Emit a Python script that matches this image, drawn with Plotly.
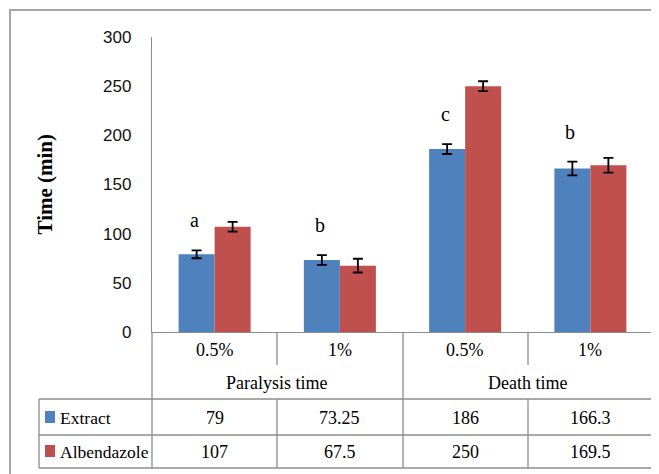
import plotly.graph_objects as go

# ---- data ----
groups = ["Paralysis time", "Death time"]
concentrations = ["0.5%", "1%", "0.5%", "1%"]
series_names = ["Extract", "Albendazole"]
extract = [79, 73.25, 186, 166.3]
albendazole = [107, 67.5, 250, 169.5]
extract_err = [4, 5, 5, 7]
albendazole_err = [5, 7, 5, 7.5]
extract_labels = ["79", "73.25", "186", "166.3"]
albendazole_labels = ["107", "67.5", "250", "169.5"]
letters = ["a", "b", "c", "b"]
y_ticks = [0, 50, 100, 150, 200, 250, 300]

# ---- layout geometry (reference pixels; page body has an 8px margin) ----
OFF = 8
W, H = 659 - OFF, 474 - OFF
L, R, T, B = 152, 653, 37, 332

def px_x(p):
    return (p - L) / (R - L)

def px_y(p):
    return (B - p) / (B - T)

BLUE = "#4F81BD"
RED = "#C0504D"
GRID = "#8C8C8C"
SERIF = "Liberation Serif, Times New Roman, serif"
SANS = "Liberation Sans, Arial, sans-serif"

xs = list(range(len(concentrations)))

fig = go.Figure()
fig.add_trace(go.Bar(
    x=xs, y=extract, name=series_names[0], marker=dict(color=BLUE, line=dict(width=0)),
    error_y=dict(type="data", array=extract_err, color="black", thickness=1.8, width=5),
))
fig.add_trace(go.Bar(
    x=xs, y=albendazole, name=series_names[1], marker=dict(color=RED, line=dict(width=0)),
    error_y=dict(type="data", array=albendazole_err, color="black", thickness=1.8, width=5),
))

shapes = []
def line(x0, y0, x1, y1, color=GRID, width=1.3):
    shapes.append(dict(type="line", xref="paper", yref="paper",
                       x0=px_x(x0), y0=px_y(y0), x1=px_x(x1), y1=px_y(y1),
                       line=dict(color=color, width=width)))

# outer chart border
shapes.append(dict(type="rect", xref="paper", yref="paper",
                   x0=px_x(10), y0=px_y(10), x1=px_x(668), y1=px_y(484),
                   line=dict(color="#A6A6A6", width=2)))

# table lines
line(L, B, L, 468)
line(R, B, R, 468)
line(403, B, 403, 468)
for xp in (277, 528):
    line(xp, B, xp, 365)
    line(xp, 399, xp, 468)
line(39, 399, 39, 468)
for yp in (399, 435, 468):
    line(39, yp, R, yp)

# legend keys
shapes.append(dict(type="rect", xref="paper", yref="paper", x0=px_x(45), x1=px_x(55),
                   y0=px_y(411), y1=px_y(423), fillcolor=BLUE, line=dict(width=0)))
shapes.append(dict(type="rect", xref="paper", yref="paper", x0=px_x(45), x1=px_x(55),
                   y0=px_y(445), y1=px_y(457), fillcolor=RED, line=dict(width=0)))

ann = []
tfont = dict(family=SERIF, size=18, color="#000")
lfont = dict(family=SERIF, size=17.5, color="#000")
for i, c in enumerate(concentrations):
    ann.append(dict(x=i, y=px_y(350), xref="x", yref="paper", text=c, showarrow=False,
                    font=tfont, xanchor="center", yanchor="middle"))
    ann.append(dict(x=i, y=px_y(418), xref="x", yref="paper", text=extract_labels[i],
                    showarrow=False, font=tfont, xanchor="center", yanchor="middle"))
    ann.append(dict(x=i, y=px_y(452), xref="x", yref="paper", text=albendazole_labels[i],
                    showarrow=False, font=tfont, xanchor="center", yanchor="middle"))
    ann.append(dict(x=i, y=extract[i] + extract_err[i], xref="x", yref="y", text=letters[i],
                    showarrow=False, font=dict(family=SERIF, size=20, color="#000"),
                    xanchor="center", yanchor="bottom", xshift=-20, yshift=17))
for g, gname in enumerate(groups):
    ann.append(dict(x=2 * g + 0.5, y=px_y(383), xref="x", yref="paper", text=gname,
                    showarrow=False, font=tfont, xanchor="center", yanchor="middle"))
ann.append(dict(x=px_x(58), y=px_y(418), xref="paper", yref="paper", text=series_names[0],
                showarrow=False, font=lfont, xanchor="left", yanchor="middle"))
ann.append(dict(x=px_x(58), y=px_y(452), xref="paper", yref="paper", text=series_names[1],
                showarrow=False, font=lfont, xanchor="left", yanchor="middle"))
ann.append(dict(x=px_x(44), y=0.5, xref="paper", yref="paper", text="<b>Time (min)</b>",
                textangle=-90, showarrow=False,
                font=dict(family=SERIF, size=21, color="#000"),
                xanchor="center", yanchor="middle"))

fig.update_layout(
    width=W, height=H,
    margin=dict(l=L - OFF, r=659 - R, t=T - OFF, b=474 - B, pad=0),
    paper_bgcolor="white", plot_bgcolor="white",
    barmode="group", bargap=0.425, bargroupgap=0,
    showlegend=False,
    shapes=shapes, annotations=ann,
    xaxis=dict(range=[-0.5, 3.5], showticklabels=False, showgrid=False, zeroline=False,
               showline=True, linecolor=GRID, linewidth=1.3, ticks=""),
    yaxis=dict(range=[0, 300], tickvals=y_ticks, showgrid=False, zeroline=False,
               showline=True, linecolor=GRID, linewidth=1.3, ticks="",
               ticklabelstandoff=16,
               tickfont=dict(family=SANS, size=17, color="#111")),
)

fig.write_html("out.html")
